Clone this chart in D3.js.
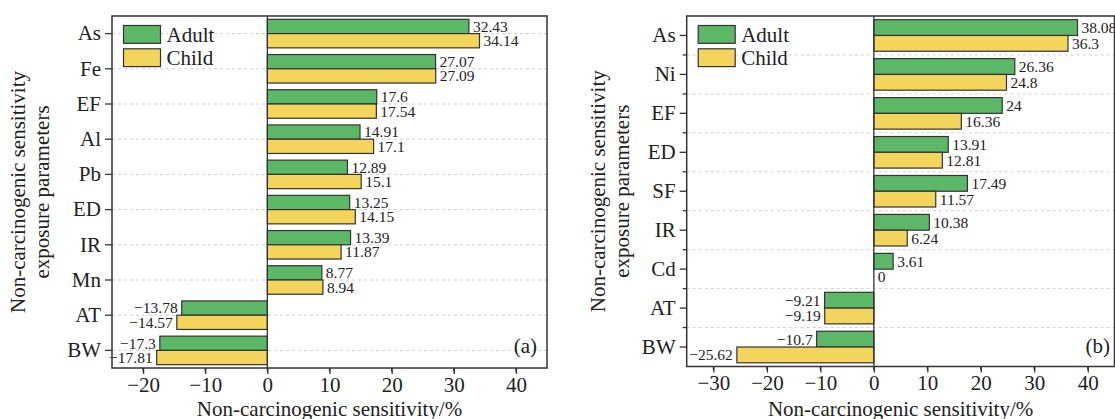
<!DOCTYPE html>
<html>
<head>
<meta charset="utf-8">
<script src="https://cdn.jsdelivr.net/npm/d3@7/dist/d3.min.js"></script>
<style>
  html, body { margin: 0; padding: 0; background: #fff; }
  svg text { font-family: "Liberation Serif", "Times New Roman", serif; }
</style>
</head>
<body>
<svg id="chart" width="1115" height="419"></svg>
<script>
// ---- Data (panel a) ----
const categoriesA = ["As", "Fe", "EF", "Al", "Pb", "ED", "IR", "Mn", "AT", "BW"];
const adultA = [32.43, 27.07, 17.6, 14.91, 12.89, 13.25, 13.39, 8.77, -13.78, -17.3];
const childA = [34.14, 27.09, 17.54, 17.1, 15.1, 14.15, 11.87, 8.94, -14.57, -17.81];
const xTicksA = [-20, -10, 0, 10, 20, 30, 40];

// ---- Data (panel b) ----
const categoriesB = ["As", "Ni", "EF", "ED", "SF", "IR", "Cd", "AT", "BW"];
const adultB = [38.08, 26.36, 24, 13.91, 17.49, 10.38, 3.61, -9.21, -10.7];
const childB = [36.3, 24.8, 16.36, 12.81, 11.57, 6.24, 0, -9.19, -25.62];
const xTicksB = [-30, -20, -10, 0, 10, 20, 30, 40];

const seriesNames = ["Adult", "Child"];
const colors = ["#5cb866", "#f3d45c"];

const svg = d3.select("#chart");
const fmt = v => (v < 0 ? "\u2212" + Math.abs(v) : String(v));

function drawPanel(cfg) {
  const { left, right, top, bottom, domain, cats, adult, child, ticks, gridAtBoundary, minorY, tag, titleX } = cfg;
  const g = svg.append("g");
  const x = d3.scaleLinear().domain(domain).range([left, right]);
  const y = d3.scaleBand().domain(cats).range([top, bottom]).padding(0);
  const bw = y.bandwidth();
  const barH = bw * 0.405;

  // grid lines
  const gridYs = gridAtBoundary
    ? cats.slice(1).map(c => y(c))
    : cats.map(c => y(c) + bw / 2);
  g.selectAll("line.grid").data(gridYs).enter().append("line")
    .attr("x1", left).attr("x2", right)
    .attr("y1", d => d).attr("y2", d => d)
    .attr("stroke", "#cfcfcf").attr("stroke-width", 1)
    .attr("stroke-dasharray", "3,3");

  // bars
  const rows = cats.map((c, i) => ({ c, vals: [adult[i], child[i]] }));
  rows.forEach(r => {
    r.vals.forEach((v, k) => {
      const yc = y(r.c) + bw / 2 - barH + k * barH;
      g.append("rect")
        .attr("x", x(Math.min(0, v)))
        .attr("y", yc)
        .attr("width", Math.abs(x(v) - x(0)))
        .attr("height", barH)
        .attr("fill", colors[k])
        .attr("stroke", v === 0 ? "none" : "#333")
        .attr("stroke-width", 1.2);
      g.append("text")
        .attr("x", v < 0 ? x(v) - 4 : x(v) + 4)
        .attr("y", yc + barH / 2)
        .attr("dy", "0.35em")
        .attr("text-anchor", v < 0 ? "end" : "start")
        .attr("font-size", "15.5px")
        .attr("fill", "#222")
        .text(fmt(v));
    });
  });

  // zero line
  g.append("line").attr("x1", x(0)).attr("x2", x(0)).attr("y1", top).attr("y2", bottom)
    .attr("stroke", "#333").attr("stroke-width", 1.3);

  // frame
  g.append("rect").attr("x", left).attr("y", top).attr("width", right - left).attr("height", bottom - top)
    .attr("fill", "none").attr("stroke", "#333").attr("stroke-width", 1.5);

  // x axis
  const xAxis = d3.axisBottom(x).tickValues(ticks).tickSize(6).tickPadding(3).tickFormat(fmt);
  const xg = g.append("g").attr("transform", `translate(0,${bottom})`).call(xAxis);
  xg.select(".domain").remove();
  xg.selectAll("line").attr("stroke", "#333").attr("stroke-width", 1.3);
  xg.selectAll("text").attr("font-size", "21px").attr("fill", "#222").attr("font-family", "Liberation Serif");
  // minor x ticks
  const minor = d3.range(domain[0] + 5, domain[1] + 0.1, 10);
  g.selectAll("line.mx").data(minor).enter().append("line")
    .attr("x1", d => x(d)).attr("x2", d => x(d))
    .attr("y1", bottom).attr("y2", bottom + 3.5)
    .attr("stroke", "#333").attr("stroke-width", 1.3);

  // y axis
  const yAxis = d3.axisLeft(y).tickSize(7).tickPadding(4);
  const yg = g.append("g").attr("transform", `translate(${left},0)`).call(yAxis);
  yg.select(".domain").remove();
  yg.selectAll("line").attr("stroke", "#333").attr("stroke-width", 1.3);
  yg.selectAll("text").attr("font-size", "21px").attr("fill", "#222").attr("font-family", "Liberation Serif");
  if (minorY) {
    g.selectAll("line.my").data(cats.slice(1).map(c => y(c))).enter().append("line")
      .attr("x1", left - 4).attr("x2", left)
      .attr("y1", d => d).attr("y2", d => d)
      .attr("stroke", "#333").attr("stroke-width", 1.3);
  }

  // axis titles
  g.append("text").attr("x", (left + right) / 2).attr("y", 416)
    .attr("text-anchor", "middle").attr("font-size", "21px").attr("fill", "#222")
    .text("Non-carcinogenic sensitivity/%");
  const cy = (top + bottom) / 2;
  g.append("text").attr("transform", `translate(${titleX},${cy}) rotate(-90)`)
    .attr("text-anchor", "middle").attr("font-size", "21px").attr("fill", "#222")
    .text("Non-carcinogenic sensitivity");
  g.append("text").attr("transform", `translate(${titleX + 24},${cy}) rotate(-90)`)
    .attr("text-anchor", "middle").attr("font-size", "21px").attr("fill", "#222")
    .text("exposure parameters");

  // legend
  seriesNames.forEach((s, k) => {
    g.append("rect").attr("x", left + 11.5).attr("y", top + 9.5 + k * 23.3)
      .attr("width", 37).attr("height", 17.8)
      .attr("fill", colors[k]).attr("stroke", "#333").attr("stroke-width", 1.2);
    g.append("text").attr("x", left + 54.5).attr("y", top + 26 + k * 23.3)
      .attr("font-size", "21px").attr("fill", "#222").text(s);
  });

  // panel tag
  g.append("text").attr("x", cfg.tagX).attr("y", 352.5)
    .attr("text-anchor", "end").attr("font-size", "21px").attr("fill", "#222").text(tag);
}

drawPanel({
  left: 112, right: 547, top: 16, bottom: 368, domain: [-25, 45],
  cats: categoriesA, adult: adultA, child: childA, ticks: xTicksA,
  gridAtBoundary: false, minorY: false, tag: "(a)", tagX: 537, titleX: 25
});
drawPanel({
  left: 686.7, right: 1114.5, top: 16, bottom: 366.5, domain: [-35, 45],
  cats: categoriesB, adult: adultB, child: childB, ticks: xTicksB,
  gridAtBoundary: true, minorY: true, tag: "(b)", tagX: 1110, titleX: 605
});
</script>
</body>
</html>
